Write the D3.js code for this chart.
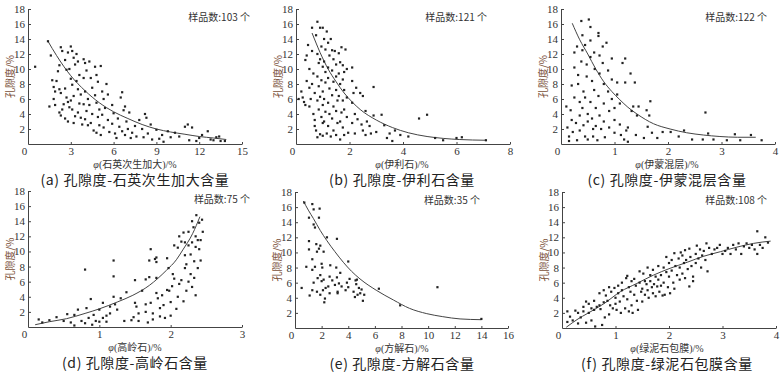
<!DOCTYPE html>
<html>
<head>
<meta charset="utf-8">
<script src="https://cdn.jsdelivr.net/npm/d3@7"></script>
<style>
body { margin: 0; background: #fff; }
</style>
</head>
<body>
<script>
// porosity vs. mineral content
const quartzPts = [
    [0.5,10.3],[1.4,13.7],[1.6,11.8],[1.5,5.0],[1.7,8.5],[1.8,7.6],[1.9,7.0],[1.8,6.0],[1.9,5.2],[2.0,8.4],
    [2.1,9.7],[2.2,10.5],[2.3,12.9],[2.4,12.4],[2.2,7.3],[2.3,6.8],[2.2,4.2],[2.3,3.8],[2.4,4.6],[2.5,5.3],
    [2.6,11.2],[2.7,9.9],[2.8,12.2],[2.9,10.0],[2.6,7.4],[2.7,6.2],[2.8,5.6],[2.9,4.9],[2.6,3.4],[2.8,3.0],
    [3.0,13.0],[3.1,12.4],[3.2,11.5],[3.3,10.6],[3.0,8.7],[3.1,7.9],[3.2,6.4],[3.0,5.8],[3.1,4.6],[3.3,3.7],
    [3.2,2.8],[3.4,12.0],[3.5,11.0],[3.6,9.2],[3.4,8.4],[3.5,7.3],[3.7,6.6],[3.6,5.4],[3.5,4.2],[3.7,3.5],
    [3.8,2.6],[3.9,11.3],[4.0,10.8],[4.1,9.8],[3.9,8.8],[4.0,7.0],[4.2,6.0],[3.9,5.3],[4.1,4.4],[4.0,3.3],
    [4.2,2.5],[4.3,11.0],[4.4,8.8],[4.5,7.5],[4.3,5.2],[4.5,4.0],[4.4,2.8],[4.6,1.8],[4.7,10.3],[4.8,9.2],
    [4.9,8.3],[4.7,6.5],[4.8,5.5],[5.0,4.6],[4.9,3.6],[5.0,2.5],[4.8,1.5],[5.1,10.4],[5.2,7.0],[5.3,6.0],
    [5.2,3.9],[5.3,2.2],[5.1,1.2],[5.5,8.0],[5.6,6.6],[5.4,4.8],[5.6,3.2],[5.7,1.6],[5.9,5.2],[6.0,4.1],
    [5.9,2.7],[6.1,1.4],[6.2,0.8],[6.3,3.4],[6.4,2.3],[6.5,6.2],[6.6,6.9],[6.7,4.5],[6.6,1.7],[6.8,5.0],
    [6.9,3.0],[6.8,1.2],[7.0,2.0],[7.1,4.2],[7.2,0.8],[7.3,1.5],[7.5,2.4],[7.6,1.0],[7.8,3.2],[8.0,2.0],
    [8.1,0.9],[8.2,4.0],[8.3,3.5],[8.4,1.4],[8.6,2.6],[8.7,0.6],[9.0,1.9],[9.2,0.7],[9.4,1.2],[9.5,0.3],
    [9.8,1.7],[10.0,0.9],[10.3,1.5],[10.6,1.0],[11.0,2.3],[11.2,2.6],[11.5,2.2],[11.3,0.5],[11.8,0.4],[12.2,1.2],
    [12.6,1.7],[12.8,0.6],[13.0,0.5],[13.2,0.9],[13.4,1.0],[13.5,0.4],[13.8,0.4],[12.0,0.8]
];
const quartzFit = [[1.4,13.7],[2,11.8],[3,9.1],[4,7.1],[5,5.5],[6,4.3],[7,3.4],[8,2.6],[9,2.0],[10,1.6],[11,1.3],[12,1.0],[13,0.8],[13.9,0.6]];

const illitePts = [
    [0.1,6.0],[0.2,7.0],[0.25,6.2],[0.3,5.6],[0.35,5.2],[0.4,8.4],[0.35,11.2],[0.4,11.8],[0.45,13.2],[0.5,10.0],
    [0.5,7.5],[0.55,6.0],[0.5,5.0],[0.6,15.5],[0.6,12.4],[0.65,9.4],[0.6,8.0],[0.7,6.8],[0.65,4.0],[0.7,3.2],
    [0.7,2.4],[0.75,1.8],[0.8,16.3],[0.75,14.5],[0.8,12.0],[0.85,10.8],[0.8,9.0],[0.85,7.7],[0.8,5.8],[0.85,4.6],
    [0.8,0.9],[0.9,1.3],[0.9,15.5],[1.0,15.5],[0.95,13.0],[0.9,11.3],[1.0,10.3],[0.95,8.5],[1.0,7.0],[0.9,6.3],
    [1.0,5.2],[0.95,3.6],[1.0,2.8],[1.0,1.1],[1.05,14.0],[1.1,12.6],[1.05,11.0],[1.1,9.6],[1.1,8.2],[1.05,6.0],
    [1.1,4.3],[1.05,3.0],[1.15,1.4],[1.15,15.0],[1.2,13.5],[1.25,11.8],[1.2,10.2],[1.2,8.8],[1.25,7.4],[1.2,5.5],
    [1.25,4.0],[1.2,2.4],[1.3,1.0],[1.3,14.0],[1.35,12.5],[1.4,11.3],[1.35,9.8],[1.4,8.3],[1.35,6.5],[1.4,5.0],
    [1.35,3.4],[1.4,1.8],[1.45,12.4],[1.5,10.6],[1.5,9.0],[1.5,7.2],[1.55,5.8],[1.5,4.4],[1.55,2.8],[1.5,1.2],
    [1.6,12.1],[1.65,10.9],[1.6,9.4],[1.65,8.0],[1.6,6.4],[1.7,4.2],[1.65,3.0],[1.65,0.6],[1.7,12.9],[1.75,10.5],
    [1.8,9.6],[1.75,8.6],[1.8,7.2],[1.75,5.8],[1.8,4.6],[1.75,2.2],[1.8,1.2],[1.85,12.6],[1.9,10.0],[1.9,6.2],
    [1.9,3.6],[1.95,1.5],[2.1,10.2],[2.1,8.4],[2.15,6.8],[2.1,5.5],[2.2,4.0],[2.1,2.8],[2.2,1.4],[2.25,7.5],
    [2.3,3.3],[2.4,6.8],[2.45,2.6],[2.5,6.4],[2.5,1.8],[2.6,4.4],[2.65,3.0],[2.6,1.2],[2.75,2.4],[2.8,1.4],
    [2.9,7.6],[2.9,3.8],[3.0,1.6],[3.2,3.9],[3.3,2.5],[3.4,0.8],[3.5,1.4],[3.6,0.4],[3.7,1.8],[3.9,1.2],
    [4.2,1.0],[4.6,3.4],[4.9,3.9],[5.2,0.8],[5.5,0.5],[6.0,0.8],[6.2,0.9],[7.1,0.5]
];
const illiteFit = [[0.6,14.8],[0.9,12.2],[1.2,10.0],[1.5,8.3],[1.8,6.8],[2.1,5.6],[2.4,4.6],[3.0,3.2],[3.6,2.2],[4.2,1.5],[4.9,1.0],[5.5,0.75],[6.1,0.6],[7.1,0.5]];

const smectitePts = [
    [0.1,5.0],[0.12,2.2],[0.15,1.0],[0.15,0.4],[0.2,7.8],[0.18,4.5],[0.2,3.2],[0.22,1.6],[0.25,12.2],[0.25,10.2],
    [0.25,6.2],[0.28,2.8],[0.3,0.5],[0.3,13.0],[0.32,9.2],[0.32,8.0],[0.35,5.6],[0.35,3.8],[0.35,1.8],[0.38,16.4],
    [0.4,14.5],[0.4,12.5],[0.38,11.0],[0.42,7.0],[0.4,4.8],[0.42,2.5],[0.45,1.0],[0.45,13.2],[0.48,10.6],[0.48,9.0],
    [0.45,6.2],[0.5,4.0],[0.5,3.0],[0.5,0.6],[0.52,16.6],[0.55,15.6],[0.55,13.8],[0.55,11.6],[0.58,8.4],[0.55,5.6],
    [0.58,3.4],[0.6,2.0],[0.6,1.0],[0.62,12.2],[0.63,10.0],[0.62,7.2],[0.65,4.8],[0.65,2.4],[0.68,0.5],[0.7,14.8],
    [0.7,14.4],[0.72,11.8],[0.72,9.4],[0.7,6.4],[0.72,3.8],[0.75,2.0],[0.78,13.0],[0.78,10.8],[0.8,8.0],[0.8,5.4],
    [0.8,3.0],[0.82,0.9],[0.85,13.5],[0.88,9.8],[0.88,7.0],[0.9,4.4],[0.9,2.2],[0.95,11.4],[0.95,8.6],[0.95,6.0],
    [1.0,4.8],[1.0,3.2],[1.0,1.5],[1.05,8.2],[1.05,6.6],[1.1,5.4],[1.1,2.6],[1.12,1.2],[1.15,10.8],[1.2,11.4],
    [1.2,8.2],[1.18,0.6],[1.22,1.8],[1.25,0.3],[1.25,2.2],[1.3,9.4],[1.32,4.4],[1.35,5.0],[1.38,8.2],[1.4,1.2],
    [1.42,3.8],[1.45,5.0],[1.55,0.8],[1.6,4.5],[1.62,2.3],[1.67,5.7],[1.65,3.8],[1.7,1.5],[1.8,0.8],[1.9,1.6],
    [2.05,1.6],[2.2,1.0],[2.3,1.8],[2.45,0.6],[2.65,0.6],[2.7,4.2],[2.75,1.4],[2.85,0.6],[3.1,0.5],[3.25,1.3],
    [3.35,0.5],[3.55,1.2],[3.75,0.5]
];
const smectiteFit = [[0.21,16.1],[0.35,13.9],[0.5,12.0],[0.65,10.0],[0.8,8.3],[0.95,7.0],[1.1,5.9],[1.25,4.9],[1.42,4.0],[1.73,2.7],[2.04,2.0],[2.35,1.5],[2.66,1.2],[2.97,1.0],[3.3,0.9],[3.64,0.9]];

const kaolinitePts = [
    [0.15,1.0],[0.2,0.6],[0.3,0.9],[0.4,1.3],[0.5,0.8],[0.55,1.7],[0.6,0.6],[0.65,1.6],[0.65,0.2],[0.7,2.3],
    [0.75,0.8],[0.8,7.6],[0.8,0.5],[0.82,2.5],[0.85,1.2],[0.88,3.7],[0.9,0.3],[0.92,1.6],[0.95,0.8],[1.0,2.3],
    [1.0,0.7],[1.05,3.2],[1.05,1.2],[1.1,1.5],[1.1,0.7],[1.15,2.7],[1.15,1.8],[1.2,8.8],[1.2,6.7],[1.2,4.0],
    [1.22,3.0],[1.25,2.3],[1.3,3.8],[1.35,0.8],[1.38,4.6],[1.45,0.9],[1.48,1.3],[1.5,6.2],[1.5,3.2],[1.52,2.7],
    [1.55,1.8],[1.55,0.8],[1.6,4.8],[1.65,6.3],[1.65,3.0],[1.68,0.6],[1.7,6.6],[1.72,10.3],[1.72,3.2],[1.75,1.8],
    [1.75,1.0],[1.78,9.0],[1.8,9.2],[1.8,8.6],[1.8,6.5],[1.8,4.5],[1.82,3.8],[1.85,2.5],[1.85,1.4],[1.88,4.2],
    [1.9,2.9],[1.92,1.2],[1.95,9.1],[1.97,7.8],[1.98,4.8],[2.0,3.3],[2.02,5.4],[2.03,7.0],[2.05,10.8],[2.08,2.4],
    [2.1,4.0],[2.1,10.5],[2.12,12.0],[2.12,5.7],[2.15,6.2],[2.18,3.4],[2.2,7.8],[2.2,11.2],[2.22,4.8],[2.22,8.3],
    [2.25,10.8],[2.25,12.6],[2.28,7.0],[2.28,9.6],[2.3,5.3],[2.3,11.2],[2.32,13.2],[2.33,8.7],[2.33,6.5],[2.35,12.0],
    [2.35,4.2],[2.36,14.8],[2.38,11.5],[2.38,7.8],[2.4,10.3],[2.4,13.8],[2.42,8.8],[2.44,14.2],[2.45,12.6],[2.42,11.5],
    [2.3,14.0],[2.25,6.0],[2.2,9.5],[2.18,12.5],[2.15,11.3],[2.05,6.4],[2.0,1.5],[2.35,10.6],[1.95,4.9],[1.7,8.8],
    [1.65,2.0]
];
const kaoliniteFit = [[0.1,0.3],[0.3,0.7],[0.54,1.1],[0.8,1.8],[1.0,2.4],[1.25,3.3],[1.47,4.2],[1.7,5.5],[1.94,7.5],[2.08,8.9],[2.17,10.2],[2.31,12.4],[2.41,14.6]];

const calcitePts = [
    [0.5,5.3],[0.7,16.6],[0.85,8.1],[1.05,14.6],[1.05,11.5],[1.05,10.4],[1.1,4.3],[1.3,9.1],[1.3,7.7],[1.3,5.0],
    [1.3,16.4],[1.4,15.7],[1.4,13.7],[1.5,13.3],[1.4,6.0],[1.5,8.1],[1.6,11.1],[1.65,10.1],[1.7,6.6],[1.65,4.8],
    [1.8,14.6],[1.85,15.8],[1.8,10.5],[1.9,10.9],[1.9,7.0],[1.9,4.4],[2.0,8.5],[2.0,6.2],[2.05,8.0],[2.1,5.0],
    [2.15,10.1],[2.15,6.4],[2.2,3.4],[2.25,3.9],[2.3,5.3],[2.4,12.0],[2.5,5.5],[2.6,6.8],[2.6,4.6],[2.65,8.3],
    [2.8,6.3],[3.0,5.7],[3.1,8.0],[3.15,11.8],[3.15,6.7],[3.2,4.8],[3.2,4.6],[3.3,5.9],[3.4,7.3],[3.5,5.5],
    [3.8,5.0],[3.9,6.0],[4.0,8.8],[4.0,5.4],[4.1,6.5],[4.4,4.8],[4.5,4.1],[4.55,6.3],[4.6,5.8],[4.65,6.4],
    [4.7,4.4],[4.8,5.3],[4.9,4.6],[5.1,3.6],[5.2,4.4],[5.0,5.1],[6.3,5.2],[7.9,3.0],[10.7,5.4],[14.0,1.2]
];
const calciteFit = [[0.63,16.8],[1.0,15.6],[1.38,14.5],[1.9,12.9],[2.38,11.6],[3.0,10.1],[3.63,8.7],[4.25,7.5],[4.88,6.5],[6.1,5.0],[7.4,3.7],[8.6,2.6],[9.9,1.9],[11.1,1.5],[12.4,1.2],[14.0,1.1]];

const chloritePts = [
    [0.1,2.2],[0.1,0.8],[0.15,1.5],[0.2,1.0],[0.25,2.3],[0.3,0.6],[0.3,2.0],[0.35,1.4],[0.4,2.2],[0.4,2.8],
    [0.45,3.5],[0.45,0.7],[0.5,3.2],[0.5,2.0],[0.55,1.0],[0.55,2.6],[0.6,2.4],[0.6,3.6],[0.62,0.2],[0.65,2.8],
    [0.7,4.6],[0.7,3.0],[0.72,2.5],[0.75,0.4],[0.78,5.0],[0.78,3.4],[0.8,1.4],[0.82,4.3],[0.85,3.6],[0.88,5.4],
    [0.88,1.8],[0.9,3.0],[0.92,4.8],[0.95,2.6],[0.98,5.3],[1.0,4.0],[1.0,3.2],[1.02,2.4],[1.05,5.6],[1.05,4.6],
    [1.08,3.5],[1.1,2.0],[1.12,6.0],[1.12,5.0],[1.15,4.2],[1.18,2.6],[1.2,6.6],[1.22,6.9],[1.22,3.8],[1.25,5.4],
    [1.25,2.2],[1.28,4.8],[1.3,6.2],[1.3,3.0],[1.32,2.0],[1.35,6.5],[1.35,4.4],[1.38,5.6],[1.4,3.6],[1.42,2.4],
    [1.45,7.5],[1.45,6.0],[1.48,4.8],[1.5,5.2],[1.5,3.5],[1.52,7.2],[1.55,6.2],[1.55,4.4],[1.58,5.8],[1.6,8.0],
    [1.6,5.0],[1.62,4.0],[1.65,7.0],[1.65,6.2],[1.68,5.4],[1.7,4.6],[1.7,7.7],[1.72,5.8],[1.75,6.8],[1.75,4.2],
    [1.78,5.5],[1.8,8.2],[1.8,6.4],[1.82,4.8],[1.85,7.0],[1.85,5.6],[1.88,4.3],[1.9,8.0],[1.9,6.0],[1.92,4.4],
    [1.95,7.4],[1.95,9.4],[1.98,5.4],[2.0,8.6],[2.0,6.8],[2.02,4.6],[2.05,9.0],[2.05,7.6],[2.08,6.0],[2.1,9.9],
    [2.1,5.2],[2.12,8.2],[2.15,7.0],[2.18,9.2],[2.2,8.0],[2.2,6.4],[2.22,10.0],[2.25,9.6],[2.25,7.2],[2.28,8.6],
    [2.3,10.3],[2.3,6.6],[2.32,9.0],[2.35,7.8],[2.38,10.5],[2.38,5.5],[2.4,9.4],[2.42,8.2],[2.45,6.2],[2.45,6.8],
    [2.5,9.8],[2.5,8.6],[2.52,10.9],[2.55,9.2],[2.58,10.4],[2.6,8.0],[2.62,9.6],[2.65,10.2],[2.68,9.0],[2.7,11.2],
    [2.72,7.5],[2.75,10.6],[2.8,9.8],[2.85,10.4],[2.9,10.6],[2.95,11.0],[3.0,9.8],[3.05,10.2],[3.1,10.6],[3.15,9.8],
    [3.2,11.0],[3.25,10.4],[3.3,11.2],[3.35,9.8],[3.4,10.8],[3.45,11.2],[3.5,10.6],[3.55,11.0],[3.6,10.4],[3.65,12.8],
    [3.65,9.8],[3.7,11.0],[3.75,10.6],[3.8,12.0],[3.85,11.3]
];
const chloriteFit = [[0.08,0.1],[0.3,1.2],[0.47,1.9],[0.78,3.2],[1.09,4.8],[1.4,5.9],[1.71,7.0],[2.02,7.9],[2.34,8.7],[2.65,9.5],[2.96,10.1],[3.27,10.7],[3.58,11.2],[3.9,11.5]];

const yTicks = [2, 4, 6, 8, 10, 12, 14, 16, 18];
const quartzTicks = [0, 3, 6, 9, 12, 15];
const illiteTicks = [0, 2, 4, 6, 8];
const smectiteTicks = [0, 1, 2, 3, 4];
const kaoliniteTicks = [0, 1, 2, 3];
const calciteTicks = [0, 2, 4, 6, 8, 10, 12, 14, 16];
const chloriteTicks = [0, 1, 2, 3, 4];

const xTitles = ['(石英次生加大)/%', '(伊利石)/%', '(伊蒙混层)/%', '(高岭石)/%', '(方解石)/%', '(绿泥石包膜)/%'];
const captions = ['(a) 孔隙度-石英次生加大含量', '(b) 孔隙度-伊利石含量', '(c) 孔隙度-伊蒙混层含量',
                  '(d) 孔隙度-高岭石含量', '(e) 孔隙度-方解石含量', '(f) 孔隙度-绿泥石包膜含量'];
const sampleCounts = [103, 121, 122, 75, 35, 108];

const serif = '"Liberation Serif", "Noto Sans CJK SC", serif';
const cjk = '"Noto Sans CJK SC", sans-serif';

function makePanel(svg, p, i) {
    const scX = d3.scaleLinear().domain([0, d3.max(p.ticks)]).range([p.x0, p.x1]);
    const scY = d3.scaleLinear().domain([0, 18]).range([p.y1, p.y0]);
    const g = svg.append('g');

    // axes: only left and bottom, ticks inward
    const yAx = g.append('g')
        .attr('transform', `translate(${p.x0},0)`)
        .call(d3.axisLeft(scY).tickValues(yTicks).tickFormat(d3.format('d'))
            .tickSizeInner(-3).tickSizeOuter(0).tickPadding(3));
    const xAx = g.append('g')
        .attr('transform', `translate(0,${p.y1})`)
        .call(d3.axisBottom(scX).tickValues(p.ticks).tickFormat(d3.format('d'))
            .tickSizeInner(-2).tickSizeOuter(0).tickPadding(3));
    [yAx, xAx].forEach(ax => {
        ax.select('.domain').attr('stroke', '#444').attr('stroke-width', 1);
        ax.selectAll('.tick line').attr('stroke', '#444');
        ax.selectAll('text').attr('font-family', serif).attr('font-size', 11).attr('fill', '#333');
    });
    xAx.selectAll('.tick text').filter(d => d === 0).attr('dx', -4);

    g.append('text')
        .attr('transform', `translate(${p.x0 - 14},${scY(9)}) rotate(-90)`)
        .attr('text-anchor', 'middle')
        .attr('font-family', cjk)
        .attr('font-size', 10)
        .attr('fill', '#7a5038')
        .text('孔隙度/%');

    const xt = g.append('text')
        .attr('x', p.tx)
        .attr('y', p.y1 + 24)
        .attr('text-anchor', 'middle')
        .attr('font-family', serif)
        .attr('font-size', 10)
        .attr('fill', '#333');
    xt.append('tspan').attr('font-style', 'italic').text('φ');
    xt.append('tspan').text(xTitles[i]);

    g.append('text')
        .attr('x', p.tx)
        .attr('y', p.y1 + 41)
        .attr('text-anchor', 'middle')
        .attr('font-family', cjk)
        .attr('font-size', 14)
        .attr('letter-spacing', 0.6)
        .attr('fill', '#222')
        .text(captions[i]);

    g.append('text')
        .attr('x', p.sx)
        .attr('y', p.y0 + 12)
        .attr('text-anchor', 'end')
        .attr('font-family', cjk)
        .attr('font-size', 10)
        .attr('fill', '#333')
        .text(`样品数:${sampleCounts[i]} 个`);

    g.append('path')
        .datum(p.fit)
        .attr('fill', 'none')
        .attr('stroke', '#444')
        .attr('stroke-width', 1)
        .attr('d', d3.line().x(d => scX(d[0])).y(d => scY(d[1])).curve(d3.curveMonotoneX));

    g.selectAll('rect.pt')
        .data(p.pts)
        .enter()
        .append('rect')
        .attr('class', 'pt')
        .attr('x', d => scX(d[0]) - 1.1)
        .attr('y', d => scY(d[1]) - 1.1)
        .attr('width', 2.2)
        .attr('height', 2.2)
        .attr('fill', '#222');
}

function main() {
    const svg = d3.select('body')
        .append('svg')
        .attr('width', 781)
        .attr('height', 375);

    const panels = [
        {pts: quartzPts, fit: quartzFit, ticks: quartzTicks, x0: 28, x1: 242, y0: 9, y1: 144, tx: 135, sx: 250},
        {pts: illitePts, fit: illiteFit, ticks: illiteTicks, x0: 296, x1: 510, y0: 9, y1: 144, tx: 402, sx: 487},
        {pts: smectitePts, fit: smectiteFit, ticks: smectiteTicks, x0: 561, x1: 775, y0: 9, y1: 144, tx: 667, sx: 767},
        {pts: kaolinitePts, fit: kaoliniteFit, ticks: kaoliniteTicks, x0: 28, x1: 242, y0: 191, y1: 327, tx: 135, sx: 250},
        {pts: calcitePts, fit: calciteFit, ticks: calciteTicks, x0: 295, x1: 508, y0: 192, y1: 328, tx: 402, sx: 480},
        {pts: chloritePts, fit: chloriteFit, ticks: chloriteTicks, x0: 562, x1: 776, y0: 192, y1: 328, tx: 667, sx: 767},
    ];
    panels.forEach((p, i) => makePanel(svg, p, i));
}

main();
</script>
</body>
</html>
